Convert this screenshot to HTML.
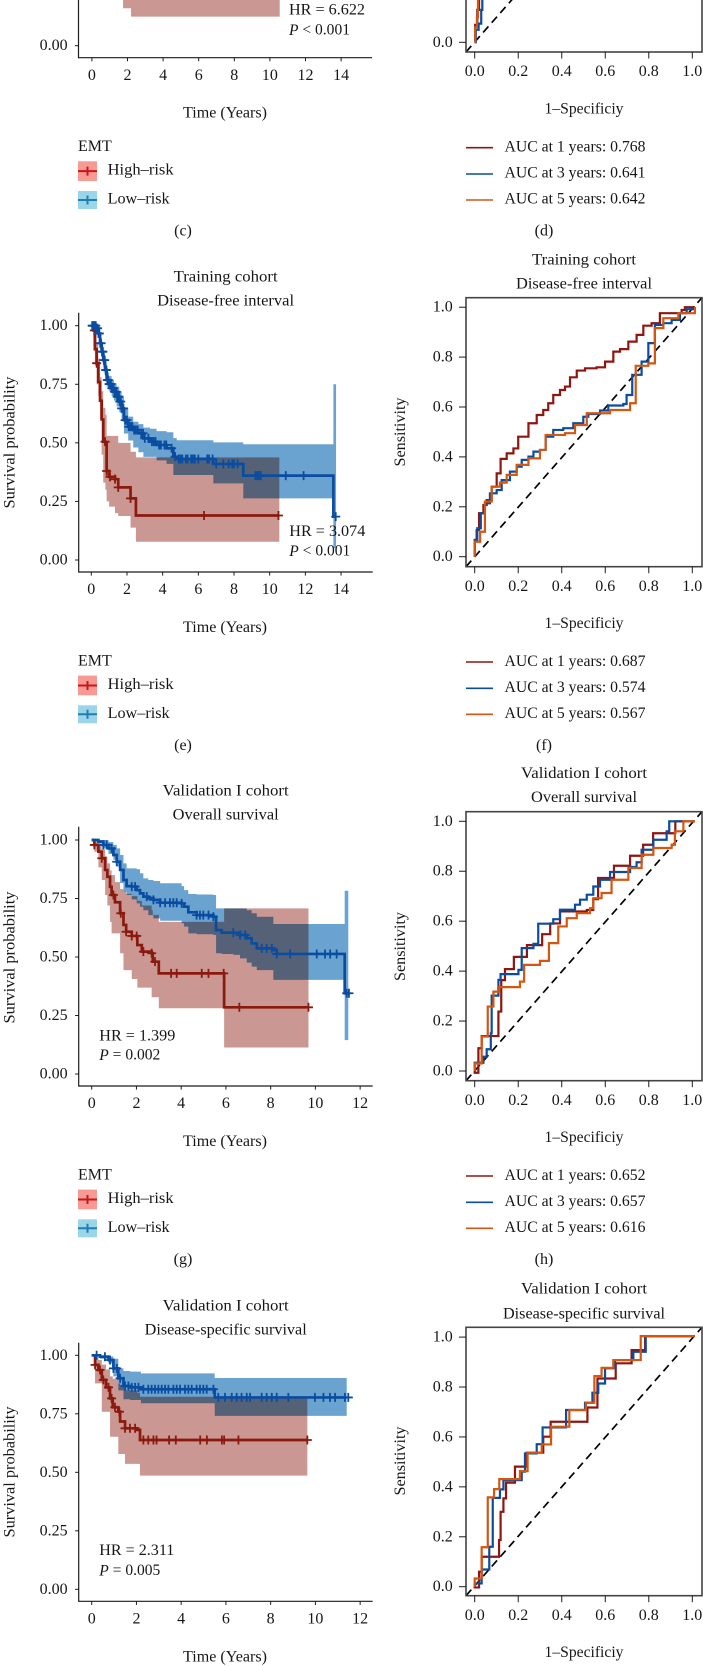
<!DOCTYPE html>
<html lang="en">
<head>
<meta charset="utf-8">
<title>Survival and ROC panels</title>
<style>
html,body{margin:0;padding:0;background:#fff;}
body{width:703px;height:1666px;overflow:hidden;}
svg{display:block;filter:blur(0.3px);}
text{font-family:"Liberation Serif","DejaVu Serif",serif;font-size:16px;fill:#161616;dominant-baseline:central;}
.m{text-anchor:middle;}
.band{mix-blend-mode:multiply;}
</style>
</head>
<body>
<svg id="fig" xmlns="http://www.w3.org/2000/svg" width="703" height="1666" viewBox="0 0 703 1666">
<rect x="0" y="0" width="703" height="1666" fill="#fff"/>
<g id="marks" style="isolation:isolate"></g>

<!-- panel c -->
<text x="289" y="10" textLength="76">HR = 6.622</text>
<text x="289" y="30" textLength="61"><tspan font-style="italic">P</tspan> &lt; 0.001</text>
<text class="m" x="225" y="113" textLength="84">Time (Years)</text>
<text x="78" y="146.7">EMT</text>
<text x="107.6" y="170" textLength="66">High–risk</text>
<text x="107.6" y="199" textLength="62">Low–risk</text>
<text class="m" x="183" y="231">(c)</text>

<!-- panel d -->
<text class="m" x="584" y="109" textLength="79">1–Specificiy</text>
<text x="504.5" y="147" textLength="141">AUC at 1 years: 0.768</text>
<text x="504.5" y="173" textLength="141">AUC at 3 years: 0.641</text>
<text x="504.5" y="199" textLength="141">AUC at 5 years: 0.642</text>
<text class="m" x="544" y="231">(d)</text>

<!-- panel e -->
<text class="m" x="225.6" y="277" textLength="104">Training cohort</text>
<text class="m" x="225.6" y="301" textLength="137">Disease-free interval</text>
<text class="m" transform="translate(10 442.5) rotate(-90)" textLength="132">Survival probability</text>
<text x="289.3" y="531.7" textLength="76">HR = 3.074</text>
<text x="289.3" y="551" textLength="61"><tspan font-style="italic">P</tspan> &lt; 0.001</text>
<text class="m" x="225" y="627.3" textLength="84">Time (Years)</text>
<text x="78" y="661">EMT</text>
<text x="107.6" y="684.3" textLength="66">High–risk</text>
<text x="107.6" y="713.3" textLength="62">Low–risk</text>
<text class="m" x="183" y="745.3">(e)</text>

<!-- panel f -->
<text class="m" x="584" y="260" textLength="104">Training cohort</text>
<text class="m" x="584" y="284" textLength="136">Disease-free interval</text>
<text class="m" transform="translate(400.7 432) rotate(-90)" textLength="69">Sensitivity</text>
<text class="m" x="584" y="623.7" textLength="79">1–Specificiy</text>
<text x="504.5" y="661.5" textLength="141">AUC at 1 years: 0.687</text>
<text x="504.5" y="687.5" textLength="141">AUC at 3 years: 0.574</text>
<text x="504.5" y="713.5" textLength="141">AUC at 5 years: 0.567</text>
<text class="m" x="544" y="745.3">(f)</text>

<!-- panel g -->
<text class="m" x="225.7" y="791" textLength="126">Validation I cohort</text>
<text class="m" x="225.7" y="815" textLength="106">Overall survival</text>
<text class="m" transform="translate(10 957.5) rotate(-90)" textLength="132">Survival probability</text>
<text x="99.3" y="1036" textLength="76">HR = 1.399</text>
<text x="99.3" y="1055" textLength="61"><tspan font-style="italic">P</tspan> = 0.002</text>
<text class="m" x="225" y="1141.3" textLength="84">Time (Years)</text>
<text x="78" y="1175">EMT</text>
<text x="107.6" y="1198.3" textLength="66">High–risk</text>
<text x="107.6" y="1227.3" textLength="62">Low–risk</text>
<text class="m" x="183" y="1259.3">(g)</text>

<!-- panel h -->
<text class="m" x="584" y="773.5" textLength="126">Validation I cohort</text>
<text class="m" x="584" y="797.7" textLength="106">Overall survival</text>
<text class="m" transform="translate(400.7 946.5) rotate(-90)" textLength="69">Sensitivity</text>
<text class="m" x="584" y="1137.7" textLength="79">1–Specificiy</text>
<text x="504.5" y="1175.5" textLength="141">AUC at 1 years: 0.652</text>
<text x="504.5" y="1201.5" textLength="141">AUC at 3 years: 0.657</text>
<text x="504.5" y="1227.5" textLength="141">AUC at 5 years: 0.616</text>
<text class="m" x="544" y="1259.3">(h)</text>

<!-- panel i -->
<text class="m" x="225.7" y="1306" textLength="126">Validation I cohort</text>
<text class="m" x="225.7" y="1330" textLength="162">Disease-specific survival</text>
<text class="m" transform="translate(10 1472) rotate(-90)" textLength="131">Survival probability</text>
<text x="99.3" y="1550.7" textLength="75">HR = 2.311</text>
<text x="99.3" y="1570.7" textLength="61"><tspan font-style="italic">P</tspan> = 0.005</text>
<text class="m" x="225" y="1657" textLength="84">Time (Years)</text>

<!-- panel j -->
<text class="m" x="584" y="1289" textLength="126">Validation I cohort</text>
<text class="m" x="584" y="1314" textLength="162">Disease-specific survival</text>
<text class="m" transform="translate(400.7 1461) rotate(-90)" textLength="69">Sensitivity</text>
<text class="m" x="584" y="1652.7" textLength="79">1–Specificiy</text>
</svg>

<script>
/* ---------- tick labels ---------- */
const survivalTickLabels = ['0.00','0.25','0.50','0.75','1.00'];
const timeTicksLong = ['0','2','4','6','8','10','12','14'];
const timeTicksShort = ['0','2','4','6','8','10','12'];
const rocTickLabels = ['0.0','0.2','0.4','0.6','0.8','1.0'];

/* ---------- panel c : high-risk series (only the tail is in frame) ---------- */
const cHighTime = [1.63,1.75,2.2,10.55];
const cHighSurv = [0.3,0.3,0.3,0.3];
const cHighLower = [0.2,0.16,0.124,0.124];
const cHighUpper = [0.5,0.5,0.5,0.5];
const cHighCensor = [];

/* ---------- panel d : ROC curves (only the origin is in frame) ---------- */
const dRedFpr = [0,0.002,0.012,0.02];
const dRedTpr = [0,0.07,0.13,0.3];
const dBlueFpr = [0,0.005,0.018,0.03,0.035];
const dBlueTpr = [0,0.05,0.075,0.13,0.2];
const dOrangeFpr = [0,0.002,0.01,0.015];
const dOrangeTpr = [0,0.06,0.1,0.2];

/* ---------- panel e : disease-free interval ---------- */
const eHighTime = [0,0.11,0.2,0.3,0.39,0.49,0.58,0.67,0.79,0.86,1.0,1.33,1.51,2.2,2.5,10.54];
const eHighSurv = [1,0.98,0.9,0.84,0.76,0.68,0.6,0.505,0.5,0.38,0.355,0.345,0.31,0.263,0.19,0.19];
const eHighLower = [1,0.95,0.83,0.75,0.7,0.6,0.45,0.33,0.3,0.25,0.228,0.2,0.188,0.138,0.078,0.078];
const eHighUpper = [1,1,0.97,0.93,0.86,0.78,0.72,0.65,0.62,0.53,0.53,0.53,0.5,0.462,0.438,0.438];
const eHighCensor = [0.17,0.3,0.77,0.86,1.05,1.33,1.51,2.2,6.32,10.49];
const eLowTime = [0,0.3,0.39,0.49,0.58,0.67,0.77,0.86,1.0,1.14,1.27,1.42,1.57,1.7,1.83,2.07,2.35,2.64,2.92,3.29,3.66,4.22,4.6,4.79,6.84,8.52,13.57,13.72];
const eLowSurv = [1,0.989,0.967,0.925,0.889,0.853,0.811,0.768,0.751,0.733,0.718,0.697,0.676,0.647,0.597,0.569,0.555,0.541,0.519,0.505,0.491,0.477,0.441,0.431,0.41,0.36,0.185,0.185];
const eLowLower = [1,0.975,0.95,0.9,0.865,0.825,0.785,0.74,0.72,0.7,0.68,0.655,0.63,0.6,0.54,0.51,0.48,0.46,0.44,0.44,0.425,0.41,0.363,0.363,0.327,0.263,0.05,0.05];
const eLowUpper = [1,1,0.985,0.95,0.915,0.88,0.84,0.8,0.785,0.77,0.755,0.74,0.72,0.695,0.65,0.612,0.59,0.58,0.565,0.56,0.55,0.545,0.52,0.511,0.502,0.494,0.75,0.75];
const eLowCensor = [0.05,0.1,0.15,0.2,0.25,0.3,0.35,0.4,0.45,0.5,0.55,0.6,0.65,0.7,0.75,0.8,0.85,0.9,0.95,1.0,1.05,1.1,1.15,1.2,1.25,1.3,1.35,1.4,1.45,1.5,1.55,1.6,1.65,1.7,1.8,1.9,2.0,2.1,2.2,2.3,2.4,2.5,2.6,2.8,2.9,3.0,3.2,3.4,3.5,3.6,3.8,3.9,4.1,4.2,4.5,4.7,4.9,5.0,5.1,5.3,5.4,5.6,5.7,5.8,6.0,6.5,6.6,6.8,7.0,7.4,7.7,7.9,8.0,8.2,9.2,9.3,9.4,9.5,10.9,11.9,13.7];

/* ---------- panel f : ROC ---------- */
const fRedFpr = [0,0.009,0.02,0.04,0.055,0.078,0.101,0.119,0.147,0.178,0.2,0.247,0.285,0.315,0.338,0.361,0.392,0.415,0.438,0.469,0.507,0.56,0.599,0.637,0.668,0.706,0.744,0.775,0.813,0.851,0.897,0.951,0.966,1.012];
const fRedTpr = [0.067,0.107,0.174,0.207,0.227,0.281,0.334,0.392,0.414,0.434,0.481,0.535,0.568,0.588,0.615,0.648,0.668,0.682,0.719,0.746,0.755,0.759,0.782,0.822,0.832,0.862,0.889,0.926,0.936,0.976,0.976,0.989,1,1];
const fBlueFpr = [0,0.012,0.028,0.047,0.07,0.101,0.124,0.162,0.193,0.216,0.247,0.27,0.3,0.326,0.361,0.407,0.453,0.499,0.522,0.576,0.614,0.683,0.698,0.724,0.767,0.798,0.828,0.867,0.905,0.943,0.974,1.012];
const fBlueTpr = [0.067,0.114,0.174,0.214,0.254,0.267,0.307,0.341,0.361,0.388,0.401,0.421,0.428,0.481,0.508,0.515,0.535,0.561,0.572,0.586,0.606,0.612,0.648,0.729,0.782,0.856,0.929,0.936,0.949,0.976,0.992,1];
const fOrangeFpr = [0,0.025,0.047,0.078,0.116,0.147,0.193,0.247,0.3,0.326,0.415,0.461,0.515,0.622,0.714,0.74,0.798,0.828,0.867,0.936,1.012];
const fOrangeTpr = [0.06,0.1,0.221,0.281,0.297,0.328,0.368,0.394,0.428,0.488,0.495,0.528,0.575,0.588,0.615,0.765,0.775,0.916,0.956,0.976,1];

/* ---------- panel g : overall survival ---------- */
const gHighTime = [0,0.12,0.3,0.45,0.6,0.7,0.82,0.89,1.04,1.27,1.42,1.54,1.79,2.04,2.24,2.68,2.73,3.0,5.92,9.69];
const gHighSurv = [1,0.979,0.95,0.922,0.872,0.843,0.8,0.765,0.734,0.687,0.637,0.608,0.59,0.551,0.523,0.516,0.48,0.43,0.285,0.285];
const gHighLower = [1,0.95,0.883,0.829,0.765,0.72,0.65,0.601,0.601,0.516,0.444,0.444,0.406,0.369,0.369,0.328,0.328,0.281,0.113,0.113];
const gHighUpper = [1,1,0.985,0.96,0.93,0.9,0.87,0.85,0.82,0.79,0.78,0.77,0.76,0.74,0.72,0.7,0.68,0.65,0.708,0.708];
const gHighCensor = [0.12,0.45,0.97,1.3,1.54,1.79,2.01,2.31,2.68,2.83,3.55,3.8,4.92,5.22,5.9,6.6,9.69];
const gLowTime = [0,0.3,0.52,0.75,0.97,1.12,1.27,1.42,1.56,1.79,2.01,2.16,2.31,2.53,2.76,3.06,4.02,4.13,4.32,4.69,5.44,5.56,5.81,6.33,6.63,6.93,7.15,7.38,8.12,8.27,11.31,11.47];
const gLowSurv = [1,0.993,0.979,0.964,0.936,0.907,0.872,0.829,0.803,0.801,0.786,0.772,0.758,0.751,0.744,0.732,0.729,0.715,0.691,0.679,0.672,0.615,0.604,0.604,0.594,0.58,0.558,0.537,0.53,0.513,0.345,0.345];
const gLowLower = [1,0.986,0.964,0.94,0.915,0.886,0.816,0.779,0.765,0.746,0.729,0.715,0.7,0.679,0.665,0.655,0.644,0.63,0.601,0.597,0.594,0.516,0.513,0.509,0.494,0.476,0.459,0.444,0.402,0.402,0.145,0.145];
const gLowUpper = [1,1,1,0.991,0.979,0.964,0.936,0.9,0.879,0.879,0.875,0.858,0.836,0.829,0.825,0.815,0.803,0.786,0.769,0.767,0.765,0.708,0.708,0.708,0.708,0.7,0.687,0.672,0.641,0.641,0.783,0.783];
const gLowCensor = [0.52,0.67,0.89,1.12,1.79,1.94,2.46,2.76,3.06,3.28,3.5,3.65,3.8,4.02,4.69,4.84,4.99,5.22,5.44,6.33,6.63,6.86,7.6,7.82,8.05,8.27,8.87,10.06,10.43,10.66,10.95,11.4,11.5];

/* ---------- panel h : ROC ---------- */
const hRedFpr = [0,0.017,0.032,0.109,0.122,0.139,0.18,0.24,0.31,0.347,0.392,0.515,0.545,0.567,0.64,0.714,0.774,0.82,0.922,1.012];
const hRedTpr = [-0.007,0.091,0.14,0.238,0.364,0.408,0.457,0.504,0.548,0.591,0.639,0.645,0.688,0.773,0.822,0.862,0.906,0.952,1,1];
const hBlueFpr = [0,0.04,0.055,0.074,0.078,0.109,0.119,0.201,0.216,0.27,0.292,0.361,0.392,0.461,0.484,0.515,0.545,0.576,0.622,0.714,0.744,0.767,0.821,0.882,0.894,0.956];
const hBlueTpr = [0.033,0.057,0.087,0.151,0.302,0.365,0.388,0.405,0.492,0.509,0.59,0.608,0.646,0.666,0.686,0.706,0.739,0.766,0.797,0.817,0.836,0.886,0.926,0.96,1,1];
const hOrangeFpr = [0,0.032,0.06,0.086,0.113,0.208,0.227,0.3,0.341,0.384,0.423,0.469,0.53,0.545,0.583,0.629,0.706,0.767,0.821,0.905,0.92,0.959,1.012];
const hOrangeTpr = [0.03,0.138,0.258,0.318,0.336,0.358,0.425,0.441,0.512,0.579,0.612,0.632,0.652,0.692,0.713,0.766,0.813,0.866,0.893,0.906,0.96,1,1];

/* ---------- panel i : disease-specific survival ---------- */
const iHighTime = [0,0.15,0.3,0.45,0.64,0.82,0.94,1.19,1.27,1.49,2.04,2.16,9.64];
const iHighSurv = [1,0.959,0.937,0.895,0.863,0.816,0.778,0.759,0.717,0.688,0.681,0.638,0.638];
const iHighLower = [1,0.88,0.88,0.759,0.759,0.652,0.652,0.578,0.578,0.536,0.536,0.486,0.486];
const iHighUpper = [1,0.99,0.98,0.96,0.94,0.91,0.9,0.88,0.87,0.85,0.84,0.823,0.823];
const iHighCensor = [0.15,0.37,0.52,0.75,0.89,1.04,1.24,1.49,1.71,1.94,2.31,2.53,2.76,2.9,3.46,3.76,4.85,5.15,5.82,5.92,6.56,9.64];
const iLowTime = [0,0.37,0.75,0.97,1.19,1.42,1.72,2.2,5.5,11.4];
const iLowSurv = [1,0.994,0.98,0.944,0.902,0.869,0.863,0.855,0.82,0.82];
const iLowLower = [1,0.985,0.965,0.91,0.85,0.812,0.809,0.795,0.741,0.741];
const iLowUpper = [1,1,0.995,0.985,0.944,0.933,0.93,0.923,0.903,0.903];
const iLowCensor = [0.22,0.59,0.82,0.97,1.12,1.27,1.49,1.64,1.79,1.94,2.09,2.31,2.53,2.68,2.83,2.98,3.13,3.28,3.43,3.65,3.8,3.95,4.17,4.32,4.47,4.69,4.84,4.99,5.14,5.44,5.66,5.96,6.26,6.48,6.7,6.93,7.08,7.6,7.82,8.05,8.27,8.79,9.98,10.36,10.65,10.88,11.32,11.47];

/* ---------- panel j : ROC ---------- */
const jRedFpr = [0,0.02,0.032,0.112,0.119,0.132,0.144,0.185,0.239,0.315,0.349,0.518,0.564,0.648,0.721,0.783,1.012];
const jRedTpr = [-0.003,0.06,0.12,0.187,0.3,0.354,0.417,0.481,0.537,0.601,0.661,0.718,0.834,0.895,0.948,1.004,1.004];
const jBlueFpr = [0,0.032,0.067,0.083,0.116,0.132,0.216,0.231,0.285,0.312,0.42,0.507,0.541,0.568,0.599,0.645,0.729,0.786,1.012];
const jBlueTpr = [0.013,0.069,0.16,0.356,0.39,0.427,0.461,0.534,0.571,0.638,0.708,0.737,0.777,0.814,0.875,0.908,0.941,1.004,1.004];
const jOrangeFpr = [0,0.032,0.06,0.089,0.113,0.208,0.243,0.308,0.351,0.435,0.511,0.55,0.583,0.637,0.763,1.012];
const jOrangeTpr = [0.033,0.158,0.358,0.391,0.431,0.463,0.537,0.57,0.641,0.708,0.737,0.844,0.877,0.908,1.004,1.004];

/* ---------- drawing ---------- */
const SVGNS = 'http://www.w3.org/2000/svg';
const root = document.getElementById('marks');
const COLORS = {
  redFill:'#CB9792', blueFill:'#6BA3D0',
  red:'#8B1A0E', blue:'#0A4DA0', orange:'#D4560F', rocRed:'#8E1510',
  axis:'#1c1c1c', frame:'#444'
};

function make(tag, attrs, parent) {
  const el = document.createElementNS(SVGNS, tag);
  for (const k in attrs) el.setAttribute(k, attrs[k]);
  (parent || root).appendChild(el);
  return el;
}
function stepValue(T, S, t) {
  let v = S[0];
  for (let i = 0; i < T.length; i++) { if (T[i] <= t) v = S[i]; }
  return v;
}
function tickLabel(x, y, str, anchor, prefix) {
  const el = make('text', {x:x, y:y, 'text-anchor':anchor});
  el.textContent = str;
  
  
}
function tickLine(x1, y1, x2, y2, prefix) {
  const el = make('line', {x1:x1, y1:y1, x2:x2, y2:y2, stroke:COLORS.axis, 'stroke-width':1});
  
  
}

function drawKM(p) {
  const sx = t => p.x0 + t * p.xk;
  const sy = s => p.y0 - s * p.yk;

  p.series.forEach(function (s) {
    let up = '', lo = '';
    for (let i = 0; i < s.T.length - 1; i++) {
      up += (i ? 'L' : 'M') + sx(s.T[i]) + ' ' + sy(s.Up[i]) + 'L' + sx(s.T[i + 1]) + ' ' + sy(s.Up[i]);
      lo = 'L' + sx(s.T[i + 1]) + ' ' + sy(s.Lo[i]) + 'L' + sx(s.T[i]) + ' ' + sy(s.Lo[i]) + lo;
    }
    const band = make('path', {d:up + lo + 'Z', fill:s.fill, class:'band'});
    
    
  });

  p.series.forEach(function (s) {
    let d = '';
    for (let i = 0; i < s.T.length; i++) {
      d += (i ? 'H' + sx(s.T[i]) + 'V' + sy(s.S[i]) : 'M' + sx(s.T[0]) + ' ' + sy(s.S[0]));
    }
    const line = make('path', {d:d, fill:'none', stroke:s.line, 'stroke-width':2.7, 'stroke-linejoin':'miter'});
    
    
    s.C.forEach(function (t) {
      const cx = sx(t), cy = sy(stepValue(s.T, s.S, t));
      const mark = make('path', {d:'M' + (cx - 4.5) + ' ' + cy + 'H' + (cx + 4.5) + 'M' + cx + ' ' + (cy - 4.5) + 'V' + (cy + 4.5), stroke:s.line, 'stroke-width':1.8, fill:'none'});
      
      
    });
  });

  const yAxis = make('line', {x1:p.axisX, y1:p.top, x2:p.axisX, y2:p.axisY + 0.6, stroke:COLORS.axis, 'stroke-width':1.2});
  
  
  const xAxis = make('line', {x1:p.axisX, y1:p.axisY, x2:p.axisRight, y2:p.axisY, stroke:COLORS.axis, 'stroke-width':1.2});
  
  

  survivalTickLabels.forEach(function (lab) {
    const y = sy(parseFloat(lab));
    if (y < 0) return;
    tickLine(p.axisX - 3.6, y, p.axisX, y, p.id + '-y');
    tickLabel(67.6, y, lab, 'end', p.id + '-y');
  });
  p.xTicks.forEach(function (lab) {
    const x = sx(parseFloat(lab));
    tickLine(x, p.axisY, x, p.axisY + 3.6, p.id + '-x');
    tickLabel(x, p.axisY + 17.6, lab, 'middle', p.id + '-x');
  });
}

function drawROC(p) {
  const sx = v => p.x0 + v * p.xk;
  const sy = v => p.y0 - v * p.yk;

  const diag = make('line', {x1:p.left, y1:p.bottom, x2:p.right, y2:p.top, stroke:'#000', 'stroke-width':1.7, 'stroke-dasharray':'8 5'});
  
  

  p.curves.forEach(function (c) {
    let d = 'M' + sx(0) + ' ' + sy(0);
    for (let i = 0; i < c.X.length; i++) {
      d += 'H' + sx(c.X[i]) + 'V' + sy(c.Y[i]);
    }
    const curve = make('path', {d:d, fill:'none', stroke:c.color, 'stroke-width':2.2});
    
    
  });

  const frame = make('rect', {x:p.left, y:p.top, width:p.right - p.left, height:p.bottom - p.top, fill:'none', stroke:COLORS.frame, 'stroke-width':1.6});
  
  

  rocTickLabels.forEach(function (lab) {
    const v = parseFloat(lab);
    const y = sy(v);
    if (y > 0) {
      tickLine(p.left - 7, y, p.left, y, p.id + '-y');
      tickLabel(452.8, y, lab, 'end', p.id + '-y');
    }
    const x = sx(v);
    tickLine(x, p.bottom, x, p.bottom + 6.5, p.id + '-x');
    tickLabel(x, p.bottom + 19.7, lab, 'middle', p.id + '-x');
  });
}

function drawKmLegend(id, y) {
  const entries = [
    {name:'high-risk', top:161.3 + y, h:19.7, bg:'#F79A94', line:'#C8161A'},
    {name:'low-risk', top:191 + y, h:18, bg:'#9AD5E8', line:'#1E7FB0'}
  ];
  entries.forEach(function (e) {
    const key = make('rect', {x:78, y:e.top, width:19, height:e.h, fill:e.bg});
    
    
    const cy = e.top + e.h / 2;
    const glyph = make('path', {d:'M78 ' + cy + 'H97M87.5 ' + (cy - 4.5) + 'V' + (cy + 4.5), stroke:e.line, 'stroke-width':2, fill:'none'});
    
    
  });
}
function drawRocLegend(id, y) {
  const entries = [
    {name:'auc-1', cy:147.7 + y, color:COLORS.rocRed},
    {name:'auc-3', cy:174 + y, color:COLORS.blue},
    {name:'auc-5', cy:200 + y, color:COLORS.orange}
  ];
  entries.forEach(function (e) {
    const key = make('line', {x1:466, y1:e.cy, x2:493, y2:e.cy, stroke:e.color, 'stroke-width':1.6});
    
    
  });
}

function kmSeries(name, T, S, Lo, Up, C, fill, line) {
  return {name:name, T:T, S:S, Lo:Lo, Up:Up, C:C, fill:fill, line:line};
}
function rocCurves(rx, ry, bx, by, ox, oy) {
  return [
    {name:'1-year', X:rx, Y:ry, color:COLORS.rocRed},
    {name:'3-year', X:bx, Y:by, color:COLORS.blue},
    {name:'5-year', X:ox, Y:oy, color:COLORS.orange}
  ];
}

drawKM({id:'c', x0:91.9, xk:17.8, y0:45.7, yk:234.3, axisX:78.5, axisRight:372, axisY:57.7, top:0, xTicks:timeTicksLong,
  series:[kmSeries('high-risk', cHighTime, cHighSurv, cHighLower, cHighUpper, cHighCensor, COLORS.redFill, COLORS.red)]});
drawKM({id:'e', x0:91.3, xk:17.84, y0:560, yk:234.3, axisX:78.7, axisRight:372.7, axisY:572, top:312.7, xTicks:timeTicksLong,
  series:[kmSeries('high-risk', eHighTime, eHighSurv, eHighLower, eHighUpper, eHighCensor, COLORS.redFill, COLORS.red),
          kmSeries('low-risk', eLowTime, eLowSurv, eLowLower, eLowUpper, eLowCensor, COLORS.blueFill, COLORS.blue)]});
drawKM({id:'g', x0:91.7, xk:22.37, y0:1074, yk:234, axisX:78.7, axisRight:372.7, axisY:1086, top:826.7, xTicks:timeTicksShort,
  series:[kmSeries('high-risk', gHighTime, gHighSurv, gHighLower, gHighUpper, gHighCensor, COLORS.redFill, COLORS.red),
          kmSeries('low-risk', gLowTime, gLowSurv, gLowLower, gLowUpper, gLowCensor, COLORS.blueFill, COLORS.blue)]});
drawKM({id:'i', x0:91.7, xk:22.37, y0:1589.3, yk:234, axisX:78.7, axisRight:372.7, axisY:1601.3, top:1342.7, xTicks:timeTicksShort,
  series:[kmSeries('high-risk', iHighTime, iHighSurv, iHighLower, iHighUpper, iHighCensor, COLORS.redFill, COLORS.red),
          kmSeries('low-risk', iLowTime, iLowSurv, iLowLower, iLowUpper, iLowCensor, COLORS.blueFill, COLORS.blue)]});

drawROC({id:'d', x0:474.7, xk:217.6, y0:42.3, yk:249.5, left:466, right:702, top:-217, bottom:52,
  curves:rocCurves(dRedFpr, dRedTpr, dBlueFpr, dBlueTpr, dOrangeFpr, dOrangeTpr)});
drawROC({id:'f', x0:474.7, xk:217.6, y0:556.7, yk:249.5, left:466, right:702, top:297.7, bottom:566.7,
  curves:rocCurves(fRedFpr, fRedTpr, fBlueFpr, fBlueTpr, fOrangeFpr, fOrangeTpr)});
drawROC({id:'h', x0:474.7, xk:217.6, y0:1071, yk:249.7, left:466, right:702, top:811.7, bottom:1080.7,
  curves:rocCurves(hRedFpr, hRedTpr, hBlueFpr, hBlueTpr, hOrangeFpr, hOrangeTpr)});
drawROC({id:'j', x0:474.7, xk:217.6, y0:1586.7, yk:249.6, left:466, right:702, top:1327.3, bottom:1595.7,
  curves:rocCurves(jRedFpr, jRedTpr, jBlueFpr, jBlueTpr, jOrangeFpr, jOrangeTpr)});

drawKmLegend('c', 0);
drawKmLegend('e', 514.3);
drawKmLegend('g', 1028.3);
drawRocLegend('d', 0);
drawRocLegend('f', 514.3);
drawRocLegend('h', 1028.3);

document.querySelectorAll('text[textLength]').forEach(function (t) {
  t.setAttribute('lengthAdjust', 'spacingAndGlyphs');
});
</script>
</body>
</html>
